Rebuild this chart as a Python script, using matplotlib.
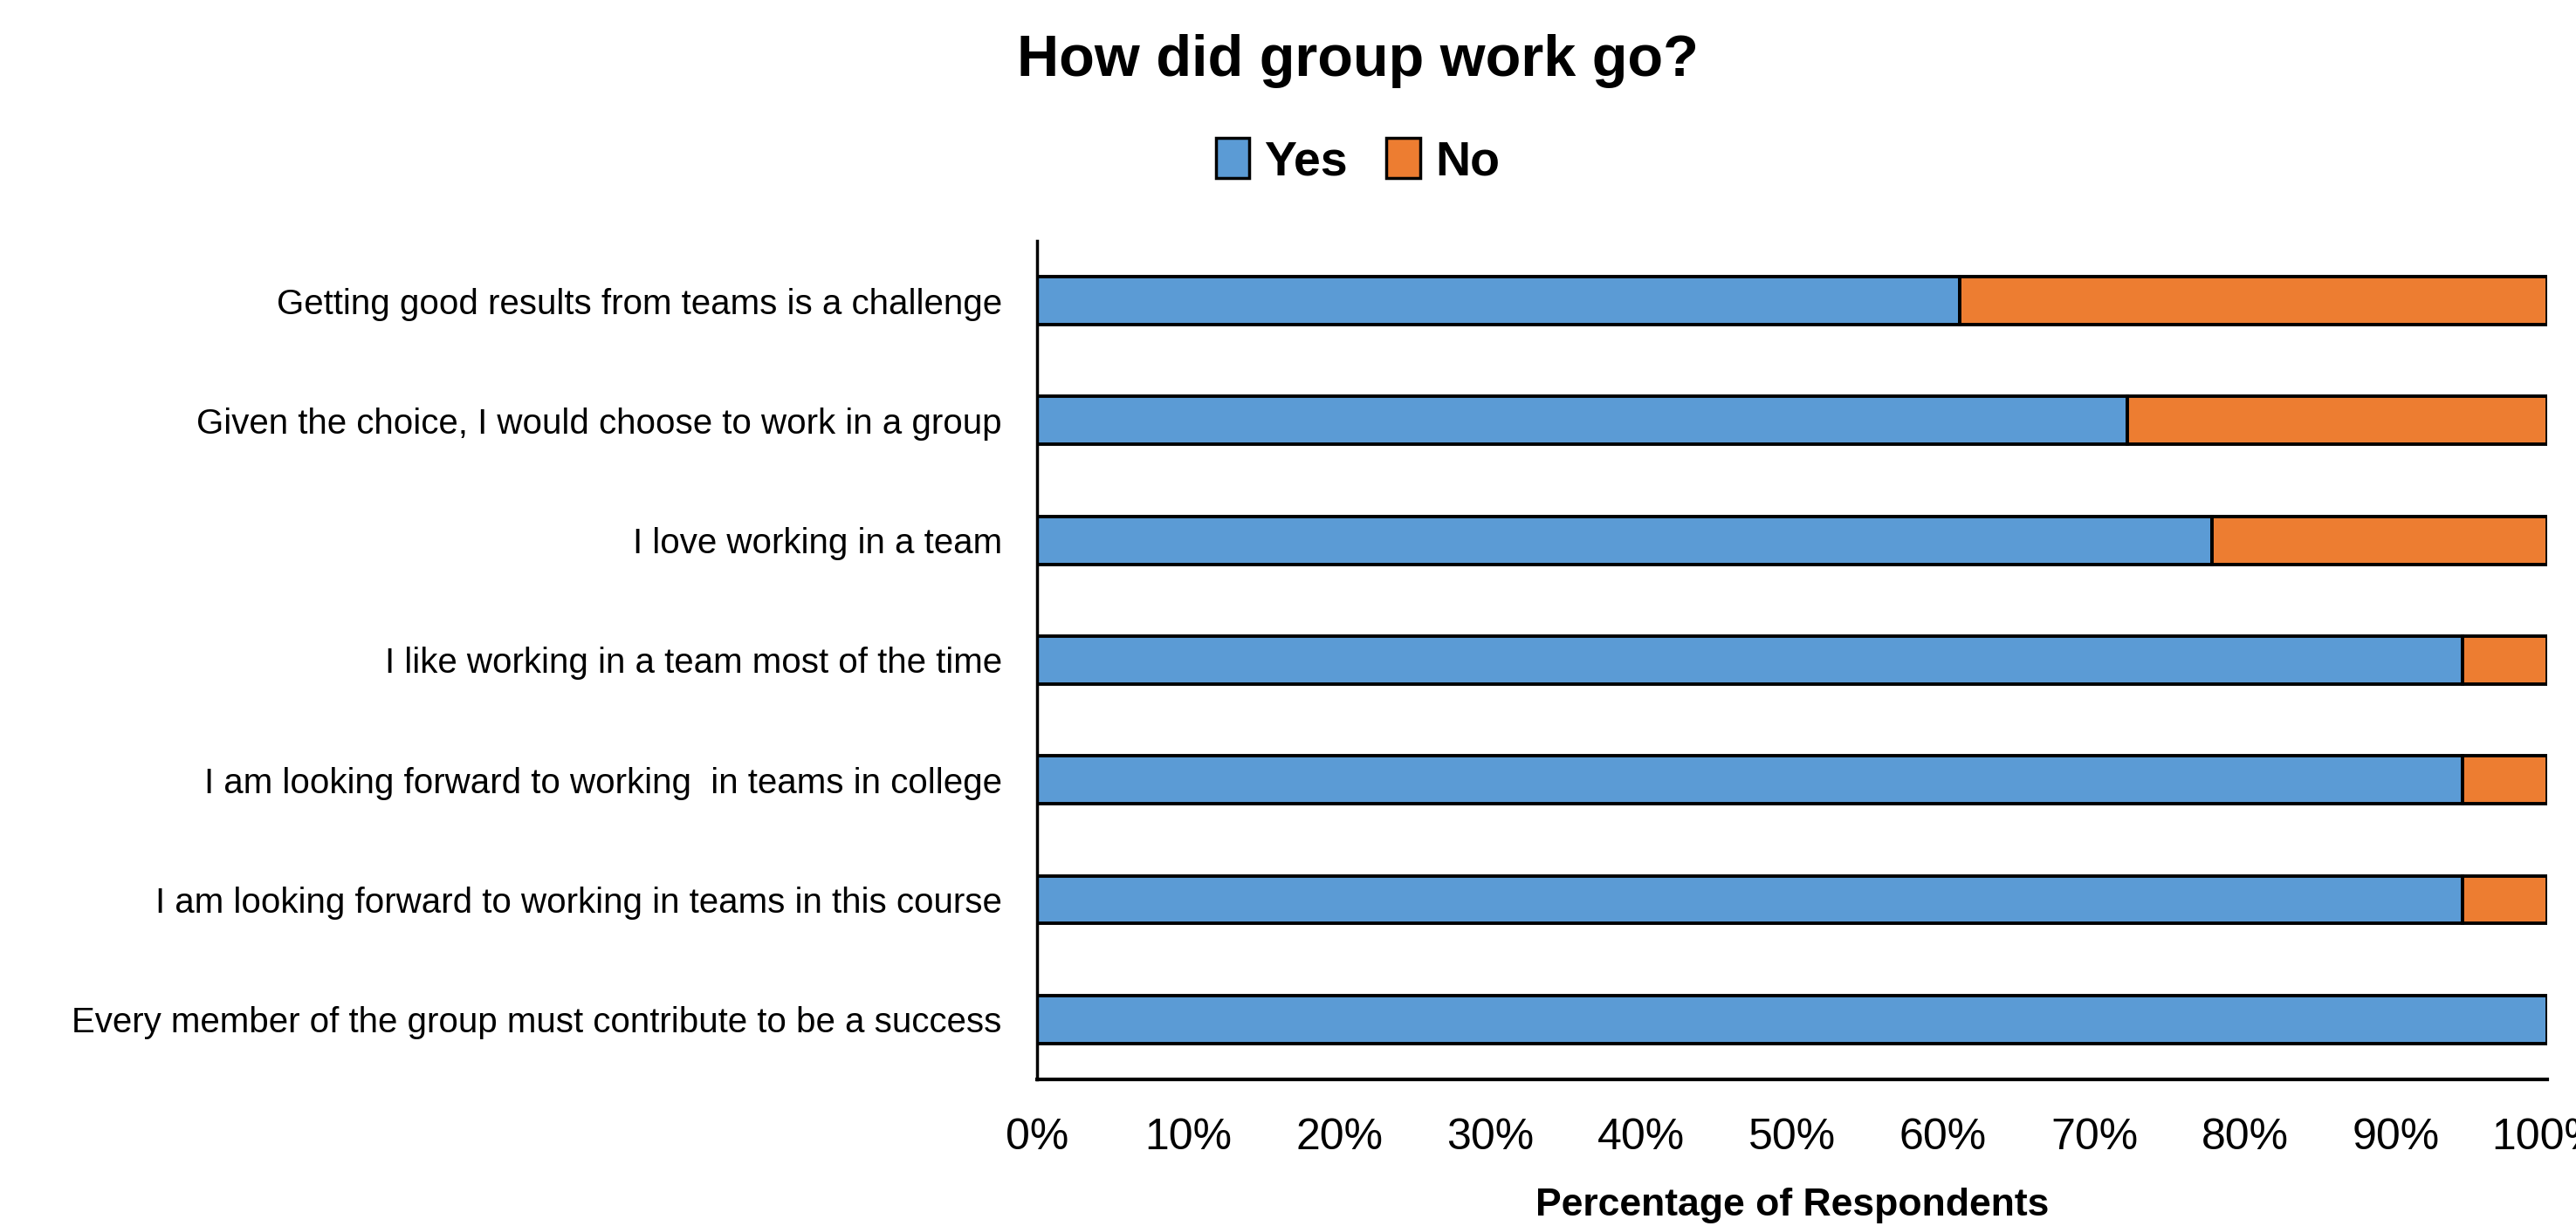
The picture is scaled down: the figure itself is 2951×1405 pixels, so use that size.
import numpy as np
import matplotlib.pyplot as plt
from matplotlib.patches import Patch

# ------------------------------------------------------------
# Survey data (18 respondents)
# ------------------------------------------------------------
statements = [
    "Getting good results from teams is a challenge",
    "Given the choice, I would choose to work in a group",
    "I love working in a team",
    "I like working in a team most of the time",
    "I am looking forward to working  in teams in college",
    "I am looking forward to working in teams in this course",
    "Every member of the group must contribute to be a success",
]
yes_pct = [61.1, 72.2, 77.8, 94.4, 94.4, 94.4, 100.0]
no_pct = [38.9, 27.8, 22.2, 5.6, 5.6, 5.6, 0.0]
xtick_vals = list(range(0, 101, 10))

blue = "#5B9BD5"
orange = "#ED7D31"

plt.rcParams["font.family"] = ["Liberation Sans", "DejaVu Sans"]

fig = plt.figure(figsize=(29.51, 14.05), dpi=100)
ax = fig.add_axes([0.4026, 0.1196, 0.5862, 0.684])

y = np.arange(len(statements))
ax.barh(y, yes_pct, height=0.4, color=blue, edgecolor="black", linewidth=2.8)
ax.barh(y, no_pct, left=yes_pct, height=0.4, color=orange, edgecolor="black", linewidth=2.8)

ax.set_ylim(len(statements) - 0.5, -0.5)
ax.set_xlim(0, 100)
ax.set_yticks(y)
ax.set_yticklabels(statements, fontsize=29)
ax.set_xticks(xtick_vals)
ax.set_xticklabels([f"{v}%" for v in xtick_vals], fontsize=36)
ax.tick_params(axis="both", length=0)
ax.tick_params(axis="y", pad=29)
ax.tick_params(axis="x", pad=32)

for side in ["top", "right"]:
    ax.spines[side].set_visible(False)
ax.spines["left"].set_linewidth(2.5)
ax.spines["bottom"].set_linewidth(3)

ax.set_xlabel("Percentage of Respondents", fontsize=32, fontweight="bold", labelpad=24)

fig.text(0.527, 0.95, "How did group work go?", ha="center", va="center",
         fontsize=48, fontweight="bold")

handles = [Patch(facecolor=blue, edgecolor="black", linewidth=2.5, label="Yes"),
           Patch(facecolor=orange, edgecolor="black", linewidth=2.5, label="No")]
fig.legend(handles=handles, loc="center", bbox_to_anchor=(0.527, 0.868), ncol=2,
           frameon=False, prop={"size": 40, "weight": "bold"},
           handlelength=0.7, handleheight=0.9, handletextpad=0.3, columnspacing=0.8)

fig.savefig("out.png", dpi=100)
